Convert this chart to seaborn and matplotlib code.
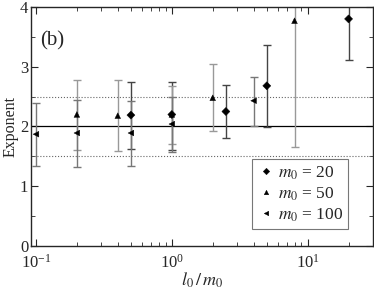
import matplotlib
matplotlib.use("Agg")
import matplotlib.pyplot as plt
import numpy as np
import pandas as pd
import seaborn as sns

# data (x = l0/m0, y = exponent, err bar ends)
x_m20 = [0.5, 1.0, 2.5, 5.0, 20.0]
y_m20 = [2.19, 2.20, 2.25, 2.68, 3.80]
hi_m20 = [2.74, 2.75, 2.70, 3.37, 4.20]
lo_m20 = [1.62, 1.60, 1.80, 1.99, 3.11]

x_m50 = [0.2, 0.4, 1.0, 2.0, 8.0]
y_m50 = [2.20, 2.18, 2.20, 2.48, 3.77]
hi_m50 = [2.77, 2.77, 2.68, 3.04, 4.20]
lo_m50 = [1.60, 1.59, 1.70, 1.92, 1.66]

x_m100 = [0.1, 0.2, 0.5, 1.0, 4.0]
y_m100 = [1.87, 1.89, 1.89, 2.04, 2.43]
hi_m100 = [2.39, 2.44, 2.43, 2.50, 2.83]
lo_m100 = [1.34, 1.32, 1.33, 1.58, 2.01]

labels = [r"$m_{\mathit{0}}$ = 20", r"$m_{\mathit{0}}$ = 50", r"$m_{\mathit{0}}$ = 100"]

sns.set_style("ticks")
plt.rcParams["font.family"] = ["Liberation Serif", "DejaVu Serif"]
plt.rcParams["mathtext.fontset"] = "stix"

rows = []
for lab, xs, ys, hs, ls in zip(labels,
                               [x_m20, x_m50, x_m100],
                               [y_m20, y_m50, y_m100],
                               [hi_m20, hi_m50, hi_m100],
                               [lo_m20, lo_m50, lo_m100]):
    for a, b, h, l in zip(xs, ys, hs, ls):
        rows.append({"x": a, "y": b, "hi": h, "lo": l, "series": lab})
df = pd.DataFrame(rows)

fig = plt.figure(figsize=(3.74, 2.90), dpi=100)
ax = fig.add_axes([0.083, 0.152, 0.913, 0.824])

# reference lines
ax.axhline(2.0, color="black", lw=0.9, zorder=1)
ax.axhline(2.5, color="#666666", lw=0.8, ls=":", zorder=1)
ax.axhline(1.5, color="#666666", lw=0.8, ls=":", zorder=1)

bar_colors = {labels[0]: "#444444", labels[1]: "#999999", labels[2]: "#777777"}
for lab, sub in df.groupby("series", sort=False):
    ax.errorbar(sub["x"], sub["y"],
                yerr=[sub["y"] - sub["lo"], sub["hi"] - sub["y"]],
                fmt="none", ecolor=bar_colors[lab], elinewidth=1.0,
                capsize=3, capthick=1.0, zorder=2)

sns.scatterplot(data=df, x="x", y="y", style="series",
                markers={labels[0]: "D", labels[1]: "^", labels[2]: "<"},
                color="black", s=17, edgecolor="black", linewidth=0.3,
                ax=ax, zorder=3)

ax.set_xscale("log")
ax.set_xlim(0.092, 30)
ax.set_ylim(0, 4)
ax.set_yticks([0, 1, 2, 3, 4])
ax.set_yticks(np.arange(0.5, 4, 1.0), minor=True)
ax.tick_params(which="both", direction="in", top=True, right=True,
               labelsize=12)
ax.tick_params(axis="x", pad=6)
ax.tick_params(axis="y", pad=2)
ax.tick_params(which="major", length=5)
ax.tick_params(which="minor", length=3)
for sp in ax.spines.values():
    sp.set_linewidth(1.0)

ax.set_xlabel(r"$l_{\mathit{0}}\,/\,m_{\mathit{0}}$", fontsize=13, labelpad=-1)
ax.set_ylabel("Exponent", fontsize=11.5, labelpad=1)
ax.text(0.107, 3.36, "(b)", fontsize=15)

leg = ax.legend(loc="lower right", fontsize=12.5, frameon=True, fancybox=False,
                edgecolor="#555555", handletextpad=0.2, borderpad=0.3,
                labelspacing=0.2, handlelength=1.0, markerscale=0.8,
                bbox_to_anchor=(0.955, 0.035))
leg.get_frame().set_linewidth(0.8)

fig.savefig("out.png", dpi=100)
